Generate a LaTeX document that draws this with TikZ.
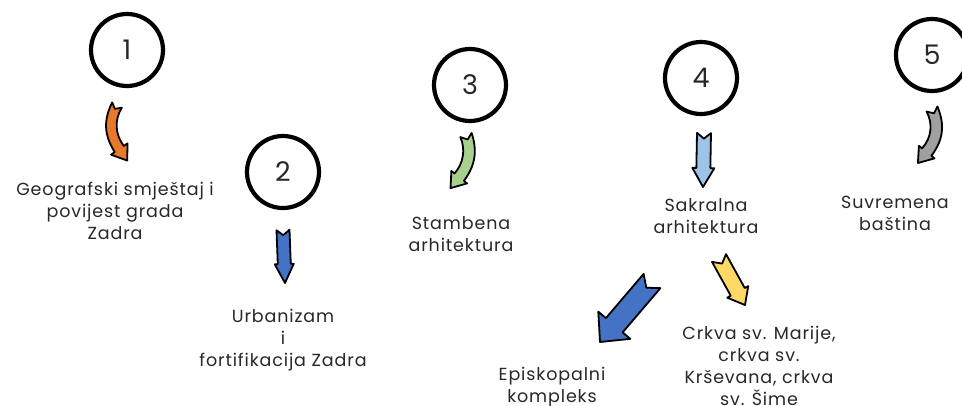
\documentclass[tikz,border=0pt]{standalone}
\usepackage{fontspec}
\setmainfont{Poppins}
\newfontfamily\lblfont[LetterSpace=5]{Poppins}
\usetikzlibrary{calc}
\definecolor{aorange}{RGB}{232,120,42}
\definecolor{ablue}{RGB}{68,114,196}
\definecolor{alightblue}{RGB}{157,195,230}
\definecolor{agreen}{RGB}{169,209,142}
\definecolor{agray}{RGB}{160,160,160}
\definecolor{ayellow}{RGB}{255,217,102}
\definecolor{txt}{RGB}{40,40,40}
% #1 fill, #2 #3 start, #4 #5 end, #6 bend, #7 half shaft, #8 half head, #9 head length
\newcommand\fatarrow[9]{%
  \pgfmathsetmacro\aang{atan2(-(#5-#3),#4-#2)}%
  \pgfmathsetmacro\alen{veclen(#4-#2,#5-#3)}%
  \pgfmathsetmacro\aLs{\alen-#9}%
  \pgfmathsetmacro\aphi{atan2(-(#6),\aLs/3)}%
  \pgfmathsetmacro\apsi{atan2(#6,\aLs/3)}%
  \pgfmathsetmacro\anotch{0.8*#7}%
  \begin{scope}[shift={(#2,#3)},rotate=\aang]
    \filldraw[arrowshape,fill=#1]
      (\apsi+90:#7) -- (\apsi:\anotch) -- (\apsi-90:#7)
      .. controls (\aLs/3,#6-#7) and (2*\aLs/3,#6-#7) ..
      ($(\aLs,0)+(\aphi-90:#7)$) -- ($(\aLs,0)+(\aphi-90:#8)$)
      -- ($(\aLs,0)+(\aphi:#9)$) -- ($(\aLs,0)+(\aphi+90:#8)$)
      -- ($(\aLs,0)+(\aphi+90:#7)$)
      .. controls (2*\aLs/3,#6+#7) and (\aLs/3,#6+#7) .. cycle;
  \end{scope}}
\begin{document}
\begin{tikzpicture}[x=1pt,y=-1pt,
  numcirc/.style={circle,draw=black,line width=4.2pt,fill=white,minimum size=72pt,inner sep=0pt,
    font=\fontsize{27}{27}\selectfont,text=txt},
  label/.style={align=center,text=txt,font=\lblfont\fontsize{17.5}{22}\selectfont,inner sep=0pt},
  arrowshape/.style={draw=black,line width=1.8pt,line join=round}]
\useasboundingbox[fill=white] (0,0) rectangle (962,405);
\node[numcirc] (c1) at (127,50) {1};
\node[numcirc] (c2) at (283,172) {2};
\node[numcirc] (c3) at (470,85) {3};
\node[numcirc] (c4) at (701,78) {4};
\node[numcirc] (c5) at (932,55) {5};

\fatarrow{aorange}{117}{105}{120}{163}{9}{5.5}{10}{14}
\fatarrow{ablue}{283}{230}{285}{283}{0}{6.5}{9.5}{19}
\fatarrow{agreen}{466}{135}{457}{191}{-8}{6}{10}{14}
\fatarrow{alightblue}{704}{133}{703}{187}{0}{7}{11}{19}
\fatarrow{agray}{932}{109}{925}{166}{-9}{6}{10}{14}
\fatarrow{ablue}{652}{281}{600}{342}{0}{11}{21}{22}
\fatarrow{ayellow}{719}{258}{745}{305}{0}{8}{12}{15}

\node[label] (t1) at (115,211) {Geografski smještaj i\\povijest grada\\Zadra};
\node[label] (t2) at (283,340) {Urbanizam\\i\\fortifikacija Zadra};
\node[label] (t3) at (461,234) {Stambena\\arhitektura};
\node[label] (t4) at (706,216) {Sakralna\\arhitektura};
\node[label] (t5) at (895,213) {Suvremena\\baština};
\node[label] (t6) at (552,387) {Episkopalni\\kompleks};
\node[label] (t7) at (759,366) {Crkva sv. Marije,\\crkva sv.\\Krševana, crkva\\sv. Šime};
\end{tikzpicture}
\end{document}
